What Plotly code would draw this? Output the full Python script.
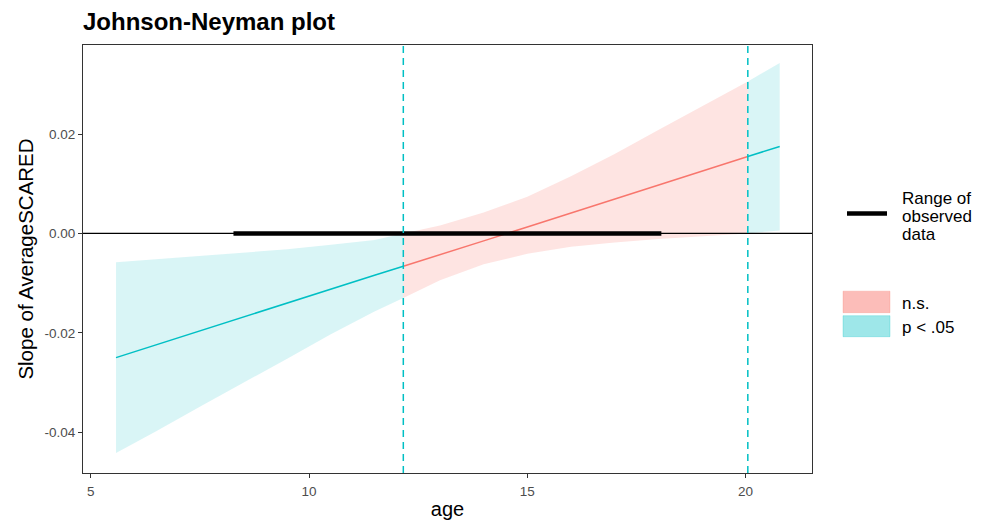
import plotly.graph_objects as go

# ---- data ----
age = [5.58, 6.5, 7.5, 8.5, 9.5, 10.5, 11.5, 12.16, 13, 14, 15, 16, 17, 18, 19, 20.05, 20.78]
slope = [-0.0250, -0.0224, -0.0196, -0.0168, -0.0140, -0.0112, -0.0084, -0.0066, -0.0042,
         -0.0015, 0.0013, 0.0041, 0.0069, 0.0097, 0.0125, 0.0155, 0.0175]
ci_lower = [-0.0442, -0.0398, -0.0349, -0.0300, -0.0252, -0.0203, -0.0157, -0.0130, -0.0094,
            -0.0062, -0.0041, -0.0027, -0.0018, -0.0011, -0.0005, 0.0000, 0.0006]
ci_upper = [-0.0058, -0.0052, -0.0046, -0.0039, -0.0032, -0.0023, -0.0013, 0.0000, 0.0016,
            0.0042, 0.0074, 0.0115, 0.0160, 0.0208, 0.0256, 0.0306, 0.0343]
jn_points = [12.16, 20.05]
observed_range = [8.27, 18.07]
x_ticks = [5, 10, 15, 20]
y_ticks = [-0.04, -0.02, 0.00, 0.02]
y_ticktext = ["-0.04", "-0.02", "0.00", "0.02"]

TEAL = "#00BFC4"
RED = "#F8766D"
TEAL_FILL = "rgba(0,191,196,0.15)"
RED_FILL = "rgba(248,118,109,0.2)"
FONT = "Liberation Sans, Arial, sans-serif"

def segment(lo_x, hi_x):
    return [i for i, a in enumerate(age) if lo_x - 1e-9 <= a <= hi_x + 1e-9]

fig = go.Figure()

regions = [
    (age[0], jn_points[0], TEAL, TEAL_FILL),
    (jn_points[0], jn_points[1], RED, RED_FILL),
    (jn_points[1], age[-1], TEAL, TEAL_FILL),
]

for lo_x, hi_x, col, fillc in regions:
    idx = segment(lo_x, hi_x)
    xs = [age[i] for i in idx]
    up = [ci_upper[i] for i in idx]
    lo = [ci_lower[i] for i in idx]
    fig.add_trace(go.Scatter(x=xs + xs[::-1], y=up + lo[::-1], fill="toself",
                             fillcolor=fillc, line=dict(width=0), mode="lines",
                             hoverinfo="skip", showlegend=False))

# zero line across the panel
fig.add_shape(type="line", xref="paper", x0=0, x1=1, yref="y", y0=0, y1=0,
              line=dict(color="black", width=1.2), layer="above")

for lo_x, hi_x, col, fillc in regions:
    idx = segment(lo_x, hi_x)
    fig.add_trace(go.Scatter(x=[age[i] for i in idx], y=[slope[i] for i in idx],
                             mode="lines", line=dict(color=col, width=1.5),
                             showlegend=False, hoverinfo="skip"))

# observed data range
fig.add_trace(go.Scatter(x=observed_range, y=[0, 0], mode="lines",
                         line=dict(color="black", width=4.5), showlegend=False,
                         hoverinfo="skip"))

for jx in jn_points:
    fig.add_shape(type="line", xref="x", x0=jx, x1=jx, yref="paper", y0=0, y1=1,
                  line=dict(color=TEAL, width=1.5, dash="7px,5px"), layer="above")

# ---- legend (drawn manually, pixel positions of the page) ----
L, R_, T, B = 83, 812, 45, 472.7
W, H = R_ - L, B - T
def px(xp): return (xp - L) / W
def py(yp): return (B - yp) / H

LEG_FONT = dict(family=FONT, size=17, color="black")
fig.add_shape(type="line", xref="paper", yref="paper", x0=px(847), x1=px(887),
              y0=py(213.5), y1=py(213.5), line=dict(color="black", width=4.5))
for txt, yy in [("Range of", 198), ("observed", 216), ("data", 234)]:
    fig.add_annotation(xref="paper", yref="paper", x=px(900), y=py(yy), xanchor="left",
                       yanchor="middle", showarrow=False, text=txt, font=LEG_FONT)
fig.add_shape(type="rect", xref="paper", yref="paper", x0=px(843), x1=px(890),
              y0=py(312.5), y1=py(291), fillcolor="rgba(248,118,109,0.48)",
              line=dict(color="rgba(248,118,109,0.25)", width=1))
fig.add_shape(type="rect", xref="paper", yref="paper", x0=px(843), x1=px(890),
              y0=py(336.5), y1=py(315.5), fillcolor="rgba(0,191,196,0.38)",
              line=dict(color="rgba(0,191,196,0.25)", width=1))
fig.add_annotation(xref="paper", yref="paper", x=px(900), y=py(303), xanchor="left",
                   yanchor="middle", showarrow=False, text="n.s.", font=LEG_FONT)
fig.add_annotation(xref="paper", yref="paper", x=px(900), y=py(327), xanchor="left",
                   yanchor="middle", showarrow=False, text="p < .05", font=LEG_FONT)

fig.update_layout(
    width=984, height=520,
    margin=dict(l=L, r=984 - R_, t=T, b=520 - B, autoexpand=False),
    paper_bgcolor="white", plot_bgcolor="white",
    font=dict(family=FONT, color="black"),
    title=dict(text="<b>Johnson-Neyman plot</b>", x=L / 984, xanchor="left",
               y=1 - 22 / 520, yanchor="middle",
               font=dict(family=FONT, size=24, color="black")),
    showlegend=False,
)
fig.update_xaxes(range=[4.824, 21.52], tickvals=x_ticks, ticks="outside", ticklen=4,
                 tickcolor="#333333", tickwidth=1, showgrid=False, zeroline=False,
                 showline=True, linecolor="#333333", linewidth=1, mirror=True,
                 automargin=False, ticklabelstandoff=2,
                 tickfont=dict(family=FONT, size=13.5, color="#4D4D4D"),
                 title=dict(text="age", font=dict(family=FONT, size=20, color="black"),
                            standoff=6))
fig.update_yaxes(range=[-0.04822, 0.03793], tickvals=y_ticks, ticktext=y_ticktext,
                 ticks="outside", ticklen=4, tickcolor="#333333", tickwidth=1,
                 showgrid=False, zeroline=False, showline=True, linecolor="#333333",
                 linewidth=1, mirror=True, automargin=False,
                 tickfont=dict(family=FONT, size=13.5, color="#4D4D4D"),
                 title=dict(text="Slope of AverageSCARED",
                            font=dict(family=FONT, size=20.5, color="black"), standoff=5))

fig.write_html("out.html", config={"displayModeBar": False},
               post_script="document.body.style.margin='0px';")
